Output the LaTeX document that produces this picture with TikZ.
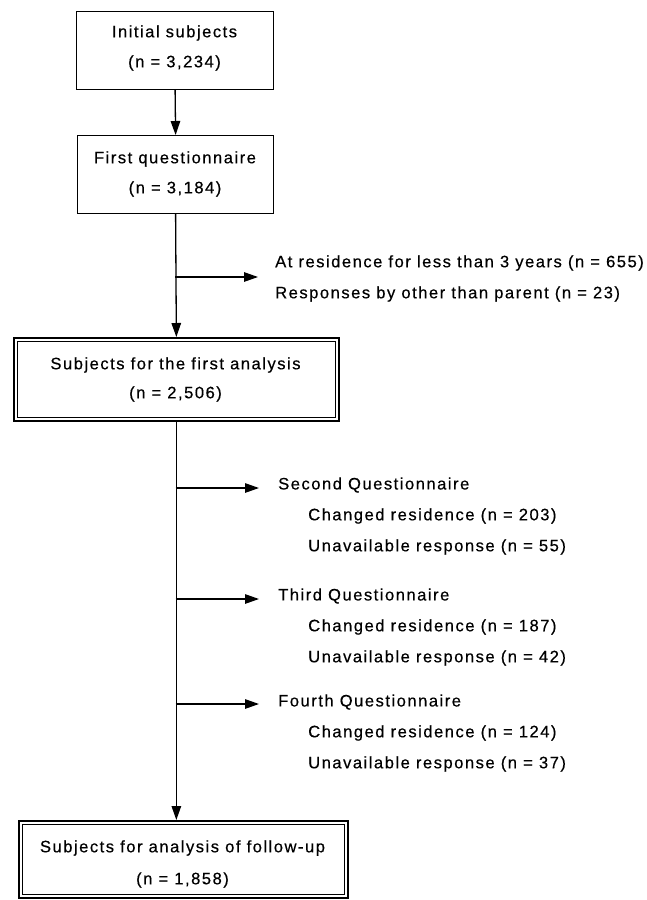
\documentclass[tikz,border=0pt]{standalone}
\usepackage{fontspec}
\setmainfont{Liberation Sans}[LetterSpace=9, FakeBold=0.4]
\usetikzlibrary{arrows.meta}
\tikzset{
  txt/.style={font=\fontsize{16.6}{20}\selectfont, inner sep=0pt},
  sidetxt/.style={txt, anchor=west},
  boxa/.style={draw, line width=1.2pt, anchor=north west},
  boxd/.style={draw, line width=1.7pt, anchor=north west},
  inner/.style={line width=0.8pt},
  arr/.style={line width=1.3pt, -{Triangle[length=14pt,width=9.5pt]}}
}
\begin{document}
\begin{tikzpicture}[x=1pt,y=-1pt]
\useasboundingbox (0,0) rectangle (647,900);
% boxes
\node[boxa, minimum width=197pt, minimum height=78pt] (b1) at (76,11) {};
\node[txt] (b1a) at (174.5,33) {Initial subjects};
\node[txt] (b1b) at (174.5,63) {(n = 3,234)};

\node[boxa, minimum width=196pt, minimum height=78pt] (b2) at (77,135) {};
\node[txt] (b2a) at (175,159) {First questionnaire};
\node[txt] (b2b) at (175,189) {(n = 3,184)};

\node[boxd, minimum width=325pt, minimum height=83pt] (b3) at (13,337) {};
\draw[inner] ([shift={(4,4)}]b3.north west) rectangle ([shift={(-4,-4)}]b3.south east);
\node[txt] (b3a) at (175.5,365) {Subjects for the first analysis};
\node[txt] (b3b) at (175.5,394) {(n = 2,506)};

\node[boxd, minimum width=329pt, minimum height=77pt] (b4) at (18,820) {};
\draw[inner] ([shift={(4,4)}]b4.north west) rectangle ([shift={(-4,-4)}]b4.south east);
\node[txt] (b4a) at (182.5,848) {Subjects for analysis of follow-up};
\node[txt] (b4b) at (182.5,880) {(n = 1,858)};

% main flow
\draw[arr] (b1.south) -- (b2.north);
\draw[arr] (b2.south) -- (b3.north);
\draw[arr] (b3.south) -- (b3.south |- b4.north);

% branches
\coordinate (j1) at (175,277);
\coordinate (t1) at (258,277);
\draw[arr] (j1) -- (t1);
\node[sidetxt] (s1a) at (275,263) {At residence for less than 3 years (n = 655)};
\node[sidetxt] (s1b) at (275,294) {Responses by other than parent (n = 23)};

\coordinate (j2) at (175.5,488);
\coordinate (t2) at (259,488);
\draw[arr] (j2) -- (t2);
\node[sidetxt] (s2) at (278,485) {Second Questionnaire};
\node[sidetxt] (s2a) at (308,516) {Changed residence (n = 203)};
\node[sidetxt] (s2b) at (308,547) {Unavailable response (n = 55)};

\coordinate (j3) at (175.5,599);
\coordinate (t3) at (259,599);
\draw[arr] (j3) -- (t3);
\node[sidetxt] (s3) at (278,596) {Third Questionnaire};
\node[sidetxt] (s3a) at (308,627) {Changed residence (n = 187)};
\node[sidetxt] (s3b) at (308,658) {Unavailable response (n = 42)};

\coordinate (j4) at (175.5,704);
\coordinate (t4) at (259,704);
\draw[arr] (j4) -- (t4);
\node[sidetxt] (s4) at (278,702) {Fourth Questionnaire};
\node[sidetxt] (s4a) at (308,733) {Changed residence (n = 124)};
\node[sidetxt] (s4b) at (308,764) {Unavailable response (n = 37)};
\end{tikzpicture}
\end{document}
